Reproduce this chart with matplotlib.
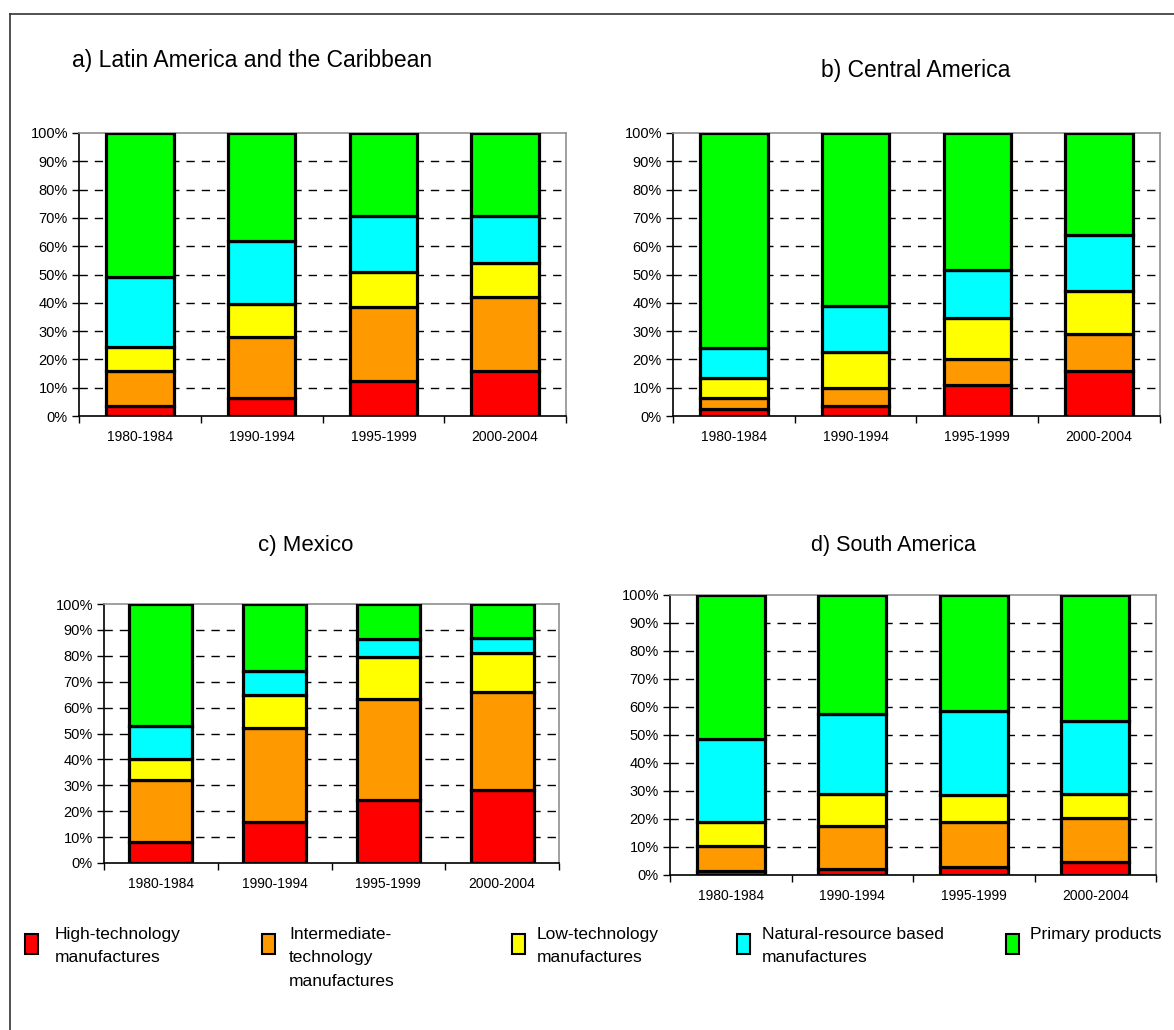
import matplotlib
matplotlib.use("Agg")
import matplotlib.pyplot as plt
from matplotlib.patches import Rectangle
from matplotlib.lines import Line2D

W, H = 1174, 1030
FONT = "Liberation Sans"
plt.rcParams['font.family'] = [FONT, 'DejaVu Sans']

periods = ["1980-1984", "1990-1994", "1995-1999", "2000-2004"]
series_names = ["High-technology\nmanufactures",
                "Intermediate-\ntechnology\nmanufactures",
                "Low-technology\nmanufactures",
                "Natural-resource based\nmanufactures",
                "Primary products"]
colors = ["#FF0000", "#FF9900", "#FFFF00", "#00FFFF", "#00FF00"]
ytick_vals = [0, 10, 20, 30, 40, 50, 60, 70, 80, 90, 100]
ytick_labels = ["0%", "10%", "20%", "30%", "40%", "50%", "60%", "70%", "80%", "90%", "100%"]

# a) Latin America and the Caribbean (shares, %)
latam_high = [3.5, 6.5, 12.5, 16.0]
latam_inter = [12.5, 21.5, 26.0, 26.0]
latam_low = [8.5, 11.5, 12.5, 12.0]
latam_nat = [24.5, 22.5, 19.5, 16.5]
latam_prim = [51.0, 38.0, 29.5, 29.5]

# b) Central America
camer_high = [2.5, 3.5, 11.0, 16.0]
camer_inter = [4.0, 6.5, 9.0, 13.0]
camer_low = [7.0, 12.5, 14.5, 15.0]
camer_nat = [10.5, 16.5, 17.0, 20.0]
camer_prim = [76.0, 61.0, 48.5, 36.0]

# c) Mexico
mex_high = [8.0, 16.0, 24.5, 28.0]
mex_inter = [24.0, 36.0, 39.0, 38.0]
mex_low = [8.0, 13.0, 16.0, 15.0]
mex_nat = [13.0, 9.0, 7.0, 6.0]
mex_prim = [47.0, 26.0, 13.5, 13.0]

# d) South America
samer_high = [1.5, 2.0, 3.0, 4.5]
samer_inter = [9.0, 15.5, 16.0, 16.0]
samer_low = [8.5, 11.5, 9.5, 8.5]
samer_nat = [29.5, 28.5, 30.0, 26.0]
samer_prim = [51.5, 42.5, 41.5, 45.0]

titles = ["a) Latin America and the Caribbean", "b) Central America",
          "c) Mexico", "d) South America"]

fig = plt.figure(figsize=(W / 100, H / 100), dpi=100)


def px_axes(l, t, r, b):
    return fig.add_axes([l / W, 1 - b / H, (r - l) / W, (b - t) / H])


def draw_panel(ax, series):
    x = list(range(len(periods)))
    bottom = [0.0] * len(periods)
    for vals, c in zip(series, colors):
        ax.bar(x, vals, width=0.556, bottom=bottom, color=c,
               edgecolor="black", linewidth=2.3, zorder=3)
        bottom = [b + v for b, v in zip(bottom, vals)]
    ax.set_xlim(-0.5, len(periods) - 0.5)
    ax.set_ylim(0, 100)
    ax.set_yticks(ytick_vals)
    ax.set_yticklabels(ytick_labels, fontsize=10.5)
    for v in ytick_vals[1:-1]:
        ax.axhline(v, color="black", lw=1.0, ls=(0, (6, 5)), zorder=1)
    ax.set_xticks(x)
    ax.set_xticklabels(periods, fontsize=10)
    ax.tick_params(axis="x", which="major", length=0, pad=10)
    ax.set_xticks([i - 0.5 for i in range(len(periods) + 1)], minor=True)
    ax.tick_params(axis="x", which="minor", length=5, width=1, direction="out", color="black")
    ax.tick_params(axis="y", length=5, width=1, direction="out", pad=3, color="black")
    ax.spines["left"].set_color("black")
    ax.spines["bottom"].set_color("black")
    ax.spines["top"].set_color("#909090")
    ax.spines["right"].set_color("#909090")
    for s in ax.spines.values():
        s.set_linewidth(1.2)
    ax.set_facecolor("white")


ax_a = px_axes(79, 133, 566, 416)
draw_panel(ax_a, [latam_high, latam_inter, latam_low, latam_nat, latam_prim])
ax_b = px_axes(673, 133, 1160, 416)
draw_panel(ax_b, [camer_high, camer_inter, camer_low, camer_nat, camer_prim])
ax_c = px_axes(104, 604, 559, 863)
draw_panel(ax_c, [mex_high, mex_inter, mex_low, mex_nat, mex_prim])
ax_d = px_axes(670, 595, 1156, 875)
draw_panel(ax_d, [samer_high, samer_inter, samer_low, samer_nat, samer_prim])

# overlay in pixel coordinates
ov = fig.add_axes([0, 0, 1, 1], zorder=-1)
ov.set_xlim(0, W)
ov.set_ylim(H, 0)
ov.axis("off")

# outer frame (left and top edges)
ov.add_line(Line2D([10, 10], [14, H], color="#333333", lw=1.2))
ov.add_line(Line2D([10, W], [14, 14], color="#333333", lw=1.2))

title_pos = [(252, 60), (916, 70), (306, 545), (893, 545)]
title_sizes = [16.5, 16.5, 16, 15.5]
for t, (tx, ty), fs in zip(titles, title_pos, title_sizes):
    ov.text(tx, ty, t, fontsize=fs, ha="center", va="center")

# stray marks present in the source image
ov.text(893, 297, "s", fontsize=6, ha="center", va="center", color="#444444")
ov.text(307, 757, "c", fontsize=6, ha="center", va="center", color="#444444")

# legend
clip = Rectangle((0, 0), W, 998, transform=ov.transData)
leg_box_x = [25, 262, 512, 737, 1006]
leg_text_x = [55, 289, 537, 762, 1030]
for name, c, bx, tx in zip(series_names, colors, leg_box_x, leg_text_x):
    ov.add_patch(Rectangle((bx, 934), 13, 20, facecolor=c, edgecolor="black", lw=1.5))
    txt = ov.text(tx, 927, name, fontsize=12.5, ha="left", va="top", linespacing=1.7)
    txt.set_clip_path(clip)

fig.savefig("out.png", dpi=100)
